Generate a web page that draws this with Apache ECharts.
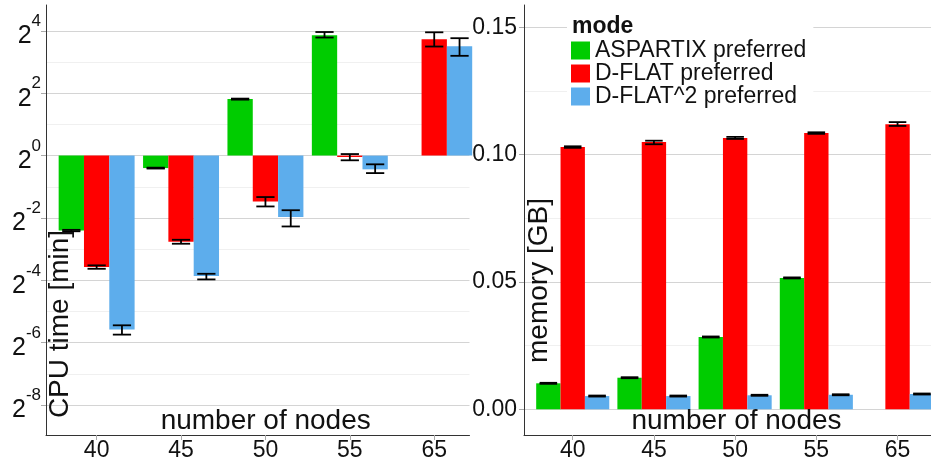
<!DOCTYPE html>
<html><head><meta charset="utf-8">
<script src="https://cdn.jsdelivr.net/npm/echarts@6/dist/echarts.min.js"></script>
<style>html,body{margin:0;padding:0;background:#fff}#c{width:931px;height:466px}</style>
</head><body><div id="c"></div><script>
// ---- data ----
const categories = ['40', '45', '50', '55', '65'];
const modes = ['ASPARTIX preferred', 'D-FLAT preferred', 'D-FLAT^2 preferred'];
const modeColors = ['#00CC00', '#FF0000', '#5DADEC'];

// CPU time [min] (mean, lower, upper)
const cpuAspartix   = [0.189, 0.758, 3.51, 14.5, null];
const cpuAspartixLo = [0.186, 0.750, 3.47, 13.8, null];
const cpuAspartixHi = [0.192, 0.765, 3.55, 15.6, null];
const cpuDflat      = [0.0842, 0.147, 0.361, 0.969, 13.3];
const cpuDflatLo    = [0.0808, 0.141, 0.323, 0.901, 11.3];
const cpuDflatHi    = [0.0872, 0.154, 0.398, 1.035, 15.5];
const cpuDflat2     = [0.0209, 0.0688, 0.255, 0.737, 11.4];
const cpuDflat2Lo   = [0.0187, 0.0638, 0.207, 0.678, 9.19];
const cpuDflat2Hi   = [0.0230, 0.0723, 0.297, 0.824, 13.6];

// memory [GB] (mean, lower, upper)
const memAspartix   = [0.0102, 0.0124, 0.0284, 0.0516, null];
const memAspartixLo = [0.0100, 0.0122, 0.0282, 0.0514, null];
const memAspartixHi = [0.0104, 0.0126, 0.0286, 0.0518, null];
const memDflat      = [0.1030, 0.1050, 0.1066, 0.1085, 0.1120];
const memDflatLo    = [0.1027, 0.1041, 0.1062, 0.1082, 0.1113];
const memDflatHi    = [0.1033, 0.1055, 0.1070, 0.1088, 0.1128];
const memDflat2     = [0.0052, 0.0052, 0.0055, 0.0057, 0.0060];
const memDflat2Lo   = [0.0050, 0.0050, 0.0053, 0.0055, 0.0058];
const memDflat2Hi   = [0.0054, 0.0054, 0.0057, 0.0059, 0.0062];

// tick labels
const cpuTickExponents = [-8, -6, -4, -2, 0, 2, 4];
const memTicks = [0, 0.05, 0.10, 0.15];
const categoryTicks = [1, 2, 3, 4, 5];

// ---- chart ----
const FONT = '"Liberation Sans", Arial, Helvetica, sans-serif';
const TXT = '#111';
const log2 = v => (v == null ? null : Math.log2(v));

function barData(vals, tf) {
  const out = [];
  vals.forEach((v, i) => { if (v != null) out.push([i + 1, tf ? tf(v) : v]); });
  return out;
}
function errData(los, his, k, tf) {
  const out = [];
  los.forEach((lo, i) => {
    if (lo != null) out.push([i + 1, tf ? tf(lo) : lo, tf ? tf(his[i]) : his[i], k]);
  });
  return out;
}
function barSeries(k, vals, panel, tf) {
  return {
    type: 'bar', name: modes[k], xAxisIndex: panel, yAxisIndex: panel,
    data: barData(vals, tf), barWidth: '30%', barGap: '0%',
    itemStyle: { color: modeColors[k] }, clip: true, silent: true
  };
}
function errSeries(panel, rows) {
  return {
    type: 'custom', xAxisIndex: panel, yAxisIndex: panel, z: 4, silent: true, clip: true,
    dimensions: ['x', 'lo', 'hi', 'k'],
    encode: { x: 0, y: [1, 2] },
    data: rows,
    renderItem(params, api) {
      const x = api.value(0), lo = api.value(1), hi = api.value(2), k = api.value(3);
      const band = api.size([1, 0])[0];
      const bw = band * 0.3;
      const pLo = api.coord([x, lo]), pHi = api.coord([x, hi]);
      const cx = pLo[0] + (k - 1) * bw;
      const hw = bw * 0.36;
      const style = { stroke: '#000', lineWidth: 1.8, fill: null };
      return {
        type: 'group', children: [
          { type: 'line', shape: { x1: cx, y1: pLo[1], x2: cx, y2: pHi[1] }, style },
          { type: 'line', shape: { x1: cx - hw, y1: pLo[1], x2: cx + hw, y2: pLo[1] }, style },
          { type: 'line', shape: { x1: cx - hw, y1: pHi[1], x2: cx + hw, y2: pHi[1] }, style }
        ]
      };
    }
  };
}

const axisLineStyle = { color: '#333', width: 1 };
const tickStyle = { color: '#aaa', width: 1 };

function xAxisCfg(gridIndex, max) {
  return {
    type: 'value', gridIndex, min: 0.4, max,
    axisLine: { show: true, onZero: false, lineStyle: axisLineStyle },
    axisTick: { show: true, length: 5, lineStyle: tickStyle, customValues: categoryTicks },
    axisLabel: {
      customValues: categoryTicks, margin: 4, fontSize: 23, fontFamily: FONT, color: TXT,
      formatter: v => categories[Math.round(v) - 1] || ''
    },
    splitLine: { show: false }
  };
}

const option = {
  animation: false,
  textStyle: { fontFamily: FONT },
  grid: [
    { left: 46, top: 5, width: 423.5, bottom: 31, outerBoundsMode: 'none', containLabel: false },
    { left: 524, top: 5, right: 0, bottom: 31, outerBoundsMode: 'none', containLabel: false }
  ],
  xAxis: [xAxisCfg(0, 5.418), xAxisCfg(1, 5.412)],
  yAxis: [
    {
      type: 'value', gridIndex: 0, min: -8.96, max: 4.83, splitNumber: 7,
      axisLine: { show: true, lineStyle: axisLineStyle },
      axisTick: { show: true, length: 5, lineStyle: tickStyle, customValues: cpuTickExponents },
      axisLabel: {
        customValues: cpuTickExponents, margin: 5, color: TXT,
        formatter: v => '{b|2}{s|' + Math.round(v) + '}',
        rich: {
          b: { fontSize: 25, lineHeight: 36, verticalAlign: 'bottom', fontFamily: FONT, color: TXT },
          s: { fontSize: 17, lineHeight: 25, verticalAlign: 'top', fontFamily: FONT, color: TXT }
        }
      },
      splitLine: { show: true, lineStyle: { color: '#d4d4d4', width: 1 } },
      minorTick: { show: false, splitNumber: 2 },
      minorSplitLine: { show: true, lineStyle: { color: '#f0f0f0', width: 1 } }
    },
    {
      type: 'value', gridIndex: 1, min: -0.0101, max: 0.1588, splitNumber: 4,
      axisLine: { show: true, lineStyle: axisLineStyle },
      axisTick: { show: true, length: 5, lineStyle: tickStyle, customValues: memTicks },
      axisLabel: {
        customValues: memTicks, margin: 7, fontSize: 23, fontFamily: FONT, color: TXT,
        formatter: v => v.toFixed(2)
      },
      splitLine: { show: true, lineStyle: { color: '#d4d4d4', width: 1 } },
      minorTick: { show: false, splitNumber: 2 },
      minorSplitLine: { show: true, lineStyle: { color: '#f0f0f0', width: 1 } }
    }
  ],
  title: {
    text: 'mode', left: 572, top: 15, padding: 0,
    textStyle: { fontSize: 23, fontWeight: 'bold', color: TXT, fontFamily: FONT, lineHeight: 23 }
  },
  legend: {
    data: modes, orient: 'vertical', left: 567, top: 10, padding: [29, 7, 3, 4],
    itemWidth: 19, itemHeight: 18, itemGap: 0, icon: 'rect', selectedMode: false,
    backgroundColor: '#fff',
    textStyle: { fontSize: 23, color: TXT, fontFamily: FONT, lineHeight: 18 }
  },
  graphic: [
    { type: 'text', x: 60, y: 324, rotation: Math.PI / 2, z: 10, silent: true,
      style: { text: 'CPU time [min]', fontSize: 28, fontFamily: FONT, fill: TXT, align: 'center', verticalAlign: 'middle' } },
    { type: 'text', x: 539, y: 280.5, rotation: Math.PI / 2, z: 10, silent: true,
      style: { text: 'memory [GB]', fontSize: 28, fontFamily: FONT, fill: TXT, align: 'center', verticalAlign: 'middle' } },
    { type: 'text', x: 265.7, y: 421, z: 10, silent: true,
      style: { text: 'number of nodes', fontSize: 28, fontFamily: FONT, fill: TXT, align: 'center', verticalAlign: 'middle' } },
    { type: 'text', x: 736.5, y: 421.7, z: 10, silent: true,
      style: { text: 'number of nodes', fontSize: 28, fontFamily: FONT, fill: TXT, align: 'center', verticalAlign: 'middle' } }
  ],
  series: [
    barSeries(0, cpuAspartix, 0, log2),
    barSeries(1, cpuDflat, 0, log2),
    barSeries(2, cpuDflat2, 0, log2),
    errSeries(0, [].concat(
      errData(cpuAspartixLo, cpuAspartixHi, 0, log2),
      errData(cpuDflatLo, cpuDflatHi, 1, log2),
      errData(cpuDflat2Lo, cpuDflat2Hi, 2, log2))),
    barSeries(0, memAspartix, 1),
    barSeries(1, memDflat, 1),
    barSeries(2, memDflat2, 1),
    errSeries(1, [].concat(
      errData(memAspartixLo, memAspartixHi, 0),
      errData(memDflatLo, memDflatHi, 1),
      errData(memDflat2Lo, memDflat2Hi, 2)))
  ]
};

const chart = echarts.init(document.getElementById('c'), null, { renderer: 'canvas' });
chart.setOption(option);
</script></body></html>
